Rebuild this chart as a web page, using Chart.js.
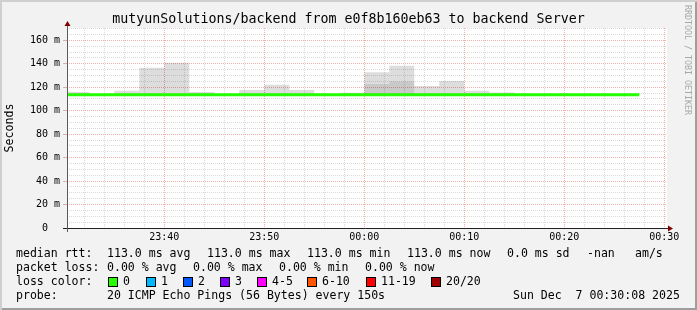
<!DOCTYPE html>
<html>
<head>
<meta charset="utf-8">
<script src="https://cdn.jsdelivr.net/npm/chart.js@4/dist/chart.umd.min.js"></script>
<style>
html,body{margin:0;padding:0;background:#f2f2f2;}
#frame{position:relative;width:697px;height:310px;background:#f2f2f2;overflow:hidden;
  box-shadow:inset 2px 2px 0 #cfcfcf, inset -2px -2px 0 #9e9e9e;}
#c{position:absolute;left:0;top:0;}
.t{position:absolute;font-family:"DejaVu Sans Mono",monospace;font-size:11.55px;line-height:14px;white-space:pre;color:#000;}
#title{position:absolute;left:0;top:11px;width:697px;text-align:center;font-family:"DejaVu Sans Mono",monospace;font-size:13.3px;line-height:16px;white-space:pre;color:#000;}
#wm{position:absolute;left:683px;top:5px;writing-mode:vertical-rl;font-family:"DejaVu Sans Mono",monospace;font-size:8.3px;line-height:10px;color:#a8a8a8;white-space:pre;}
.box{position:absolute;width:10px;height:10px;box-sizing:border-box;border:1px solid #000;}
</style>
</head>
<body>
<div id="frame">
  <canvas id="c" width="697" height="310" style="width:697px;height:310px"></canvas>
  <div id="title">mutyunSolutions/backend from e0f8b160eb63 to backend Server</div>
  <div id="wm">RRDTOOL / TOBI OETIKER</div>
  <div id="legend"></div>
</div>
<script>
// ---- data (minutes after 23:30:00, RTT in ms) ----
const sampleStart = [0, 2.5, 5, 7.5, 10, 12.5, 15, 17.5, 20, 22.5, 25, 27.5, 30, 32.5, 35, 37.5, 40, 42.5, 45, 47.5, 50, 52.5, 55];
const sampleLength = 2.5;
const maxRtt   = [116.0, 113.0, 117.1, 136.7, 140.9, 116.0, 113.0, 117.7, 122.2, 117.7, 113.0, 115.4, 132.8, 138.4, 121.1, 125.4, 116.9, 115.6, 113.0, 113.0, 113.0, 113.0, 113.0];
const innerRtt = [113.0, 113.0, 113.0, 113.0, 113.0, 113.0, 113.0, 113.0, 113.0, 113.0, 113.0, 113.0, 122.8, 124.8, 113.0, 113.0, 113.0, 113.0, 113.0, 113.0, 113.0, 113.0, 113.0];
const minRtt   = [113.0, 113.0, 113.0, 113.0, 113.0, 113.0, 113.0, 113.0, 113.0, 113.0, 113.0, 113.0, 113.0, 113.0, 113.0, 113.0, 113.0, 113.0, 113.0, 113.0, 113.0, 113.0, 113.0];
const medianRtt= [113.5, 113.5, 113.5, 113.5, 113.5, 113.5, 113.5, 113.5, 113.5, 113.5, 113.5, 113.5, 113.5, 113.5, 113.5, 113.5, 113.5, 113.5, 113.5, 113.5, 113.5, 113.5, 113.5];

const xRange = [0.27, 60.27];
const xTickMinutes = [10, 20, 30, 40, 50, 60];
const xTickLabels = ['23:40', '23:50', '00:00', '00:10', '00:20', '00:30'];
const xMinorMinutes = [2, 4, 6, 8, 12, 14, 16, 18, 22, 24, 26, 28, 32, 34, 36, 38, 42, 44, 46, 48, 52, 54, 56, 58];
const yMax = 170.5;
const yTickValues = [0, 20, 40, 60, 80, 100, 120, 140, 160];
const yTickLabels = ['0  ', '20 m', '40 m', '60 m', '80 m', '100 m', '120 m', '140 m', '160 m'];
const yMinorValues = [5, 10, 15, 25, 30, 35, 45, 50, 55, 65, 70, 75, 85, 90, 95, 105, 110, 115, 125, 130, 135, 145, 150, 155, 165, 170];

const lossLabels = ['0', '1', '2', '3', '4-5', '6-10', '11-19', '20/20'];
const lossColors = ['#26ff00', '#00b8ff', '#0059ff', '#7e00ff', '#ff00ff', '#ff5500', '#ff0000', '#a10000'];
const lossBoxX = [108, 146, 183, 220, 257, 307, 366, 431];

// ---- legend text ----
const legendItems = [
  [16, 246, 'median rtt:'], [107, 246, '113.0 ms avg'], [207, 246, '113.0 ms max'], [307, 246, '113.0 ms min'],
  [407, 246, '113.0 ms now'], [507, 246, '0.0 ms sd'], [587, 246, '-nan'], [635, 246, 'am/s'],
  [16, 260, 'packet loss:'], [107, 260, '0.00 % avg'], [193, 260, '0.00 % max'], [279, 260, '0.00 % min'], [365, 260, '0.00 % now'],
  [16, 274, 'loss color:'],
  [16, 288, 'probe:'], [107, 288, '20 ICMP Echo Pings (56 Bytes) every 150s'], [513, 288, 'Sun Dec  7 00:30:08 2025']
];
const legend = document.getElementById('legend');
legendItems.forEach(([x, y, s]) => {
  const d = document.createElement('div');
  d.className = 't'; d.style.left = x + 'px'; d.style.top = y + 'px'; d.textContent = s;
  legend.appendChild(d);
});
lossLabels.forEach((lab, i) => {
  const b = document.createElement('div');
  b.className = 'box'; b.style.left = lossBoxX[i] + 'px'; b.style.top = '277px'; b.style.background = lossColors[i];
  legend.appendChild(b);
  const d = document.createElement('div');
  d.className = 't'; d.style.left = (lossBoxX[i] + 15) + 'px'; d.style.top = '274px'; d.textContent = lab;
  legend.appendChild(d);
});

// ---- build step series ----
function steps(values) {
  const pts = [];
  sampleStart.forEach((t, i) => {
    pts.push({x: t, y: values[i]});
    pts.push({x: t + sampleLength, y: values[i]});
  });
  return pts;
}

const mono = '"DejaVu Sans Mono", monospace';
const minorColor = 'rgba(143,143,143,0.33)';
const majorColor = 'rgba(222,48,32,0.38)';

const bgPlugin = {
  id: 'canvasBg',
  beforeDraw(chart) {
    const {ctx, chartArea: a} = chart;
    ctx.save();
    ctx.fillStyle = '#ffffff';
    ctx.fillRect(a.left, a.top, a.right - a.left, a.bottom - a.top);
    ctx.restore();
  }
};
const axisPlugin = {
  id: 'axisArrows',
  afterDraw(chart) {
    const {ctx, chartArea: a} = chart;
    ctx.save();
    const yb = Math.round(a.bottom) + 0.5;
    const xl = Math.round(a.left) + 0.5;
    ctx.lineWidth = 1;
    ctx.strokeStyle = '#1f1f1f';
    ctx.beginPath(); ctx.moveTo(a.left - 4, yb); ctx.lineTo(a.right + 1, yb); ctx.stroke();
    ctx.strokeStyle = '#5a5a5a';
    ctx.beginPath(); ctx.moveTo(xl, a.bottom + 4); ctx.lineTo(xl, a.top - 2); ctx.stroke();
    ctx.fillStyle = '#7f0000';
    ctx.beginPath(); ctx.moveTo(a.right + 1, yb - 3); ctx.lineTo(a.right + 6, yb); ctx.lineTo(a.right + 1, yb + 3); ctx.closePath(); ctx.fill();
    ctx.beginPath(); ctx.moveTo(xl - 3, a.top - 2); ctx.lineTo(xl, a.top - 7); ctx.lineTo(xl + 3, a.top - 2); ctx.closePath(); ctx.fill();
    ctx.restore();
  }
};

new Chart(document.getElementById('c'), {
  type: 'line',
  data: {
    datasets: [
      {label: 'median', data: steps(medianRtt), borderColor: '#26ff00', borderWidth: 3, pointRadius: 0, fill: false, order: 0, clip: 0, xAxisID: 'x', yAxisID: 'y'},
      {label: 'inner', data: steps(innerRtt), borderWidth: 0, borderColor: 'rgba(0,0,0,0)', backgroundColor: 'rgba(0,0,0,0.09)', pointRadius: 0, fill: 3, order: 1, xAxisID: 'x', yAxisID: 'y'},
      {label: 'outer', data: steps(maxRtt), borderWidth: 0, borderColor: 'rgba(0,0,0,0)', backgroundColor: 'rgba(0,0,0,0.135)', pointRadius: 0, fill: 3, order: 2, xAxisID: 'x', yAxisID: 'y'},
      {label: 'min', data: steps(minRtt), borderWidth: 0, borderColor: 'rgba(0,0,0,0)', pointRadius: 0, fill: false, order: 3, xAxisID: 'x', yAxisID: 'y'}
    ]
  },
  options: {
    responsive: false,
    animation: false,
    devicePixelRatio: 1,
    events: [],
    layout: {padding: {left: 0, right: 30, top: 28, bottom: 62}},
    plugins: {legend: {display: false}, tooltip: {enabled: false}, title: {display: false}},
    elements: {line: {tension: 0}},
    scales: {
      x2: {
        type: 'linear', position: 'bottom', min: xRange[0], max: xRange[1],
        afterBuildTicks: s => { s.ticks = xMinorMinutes.map(v => ({value: v})); },
        ticks: {display: false},
        grid: {color: minorColor, drawTicks: false, lineWidth: 1},
        border: {display: false, dash: [1, 1]},
        afterFit: s => { s.height = 0; }
      },
      y2: {
        type: 'linear', position: 'left', min: 0, max: yMax,
        afterBuildTicks: s => { s.ticks = yMinorValues.map(v => ({value: v})); },
        ticks: {display: false},
        grid: {color: minorColor, drawTicks: false, lineWidth: 1},
        border: {display: false, dash: [1, 1]},
        afterFit: s => { s.width = 0; }
      },
      x: {
        type: 'linear', position: 'bottom', min: xRange[0], max: xRange[1],
        afterBuildTicks: s => { s.ticks = xTickMinutes.map(v => ({value: v})); },
        ticks: {
          callback: (v, i) => xTickLabels[i],
          font: {family: mono, size: 10}, color: '#000', padding: 3,
          maxRotation: 0, autoSkip: false
        },
        grid: {color: majorColor, drawTicks: false, lineWidth: 1},
        border: {display: false, dash: [1, 1]},
        afterFit: s => { s.height = 20; }
      },
      y: {
        type: 'linear', position: 'left', min: 0, max: yMax,
        afterBuildTicks: s => { s.ticks = yTickValues.map(v => ({value: v})); },
        ticks: {
          callback: (v, i) => yTickLabels[i],
          font: {family: mono, size: 10}, color: '#000', padding: 3
        },
        grid: {color: majorColor, drawTicks: true, tickLength: 4, lineWidth: 1},
        border: {display: false, dash: [1, 1]},
        title: {display: true, text: 'Seconds', font: {family: mono, size: 11.6}, color: '#000', padding: {top: 3.5, bottom: 0}},
        afterFit: s => { s.width = 67; }
      }
    }
  },
  plugins: [bgPlugin, axisPlugin]
});
</script>
</body>
</html>
